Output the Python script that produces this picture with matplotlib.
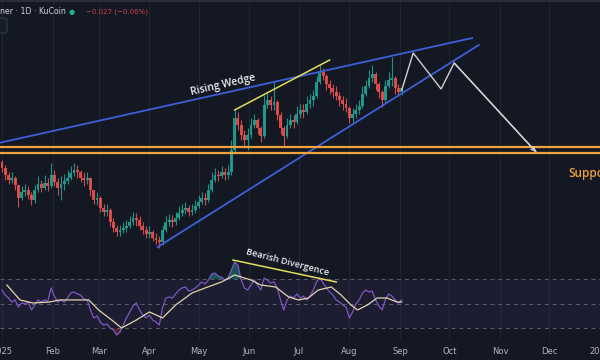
import numpy as np
import pandas as pd
import matplotlib
matplotlib.use("Agg")
import matplotlib.pyplot as plt
from matplotlib.patches import FancyBboxPatch, Rectangle

# velas de 2 dias, 1 ene - 3 sep 2025
candle_start = "2025-01-01"
first_open = 37.8
closes = [37.2, 36.5, 36.0, 36.2, 35.5, 34.2, 34.8, 35.0, 34.5, 34.0,
          35.0, 35.6, 35.2, 35.7, 35.4, 36.5, 35.8, 35.2, 35.6, 35.9,
          36.2, 36.7, 37.0, 36.8, 36.2, 36.0, 36.2, 35.0, 34.0, 34.2,
          33.2, 32.8, 33.0, 31.8, 31.2, 30.8, 31.0, 31.2, 31.4, 31.8,
          32.2, 32.0, 31.4, 31.0, 30.6, 30.8, 30.2, 30.0, 29.8, 31.0,
          31.8, 32.0, 31.8, 32.2, 32.7, 33.0, 33.2, 32.8, 33.0, 33.4,
          33.8, 34.2, 34.0, 35.0, 36.0, 36.5, 36.4, 36.8, 36.5, 36.8,
          39.0, 42.2, 41.5, 40.5, 40.0, 40.5, 41.5, 42.0, 41.2, 40.4,
          43.5, 44.0, 43.5, 43.8, 42.5, 41.2, 40.4, 41.5, 42.0, 41.8,
          42.6, 43.0, 42.8, 43.6, 44.0, 44.4, 45.8, 46.8, 46.4, 45.6,
          45.2, 44.8, 44.4, 44.0, 43.6, 43.2, 42.2, 42.6, 43.0, 43.4,
          44.6, 45.4, 46.2, 46.6, 45.6, 44.8, 44.0, 45.4, 46.0, 46.2,
          45.2, 44.8, 45.2]
highs = [38.0, 37.5, 36.8, 36.8, 36.4, 35.5, 35.4, 35.6, 35.4, 34.8,
         35.5, 36.4, 36.0, 36.5, 36.2, 37.7, 37.0, 36.2, 36.4, 36.6,
         37.0, 37.4, 37.7, 37.5, 37.0, 36.8, 36.8, 36.3, 35.0, 34.8,
         34.4, 33.6, 33.6, 33.2, 32.2, 31.5, 31.5, 31.8, 32.0, 32.4,
         32.8, 32.7, 32.4, 31.8, 31.4, 31.4, 31.0, 30.7, 30.4, 31.5,
         32.4, 32.6, 32.5, 32.8, 33.4, 33.6, 33.8, 33.5, 33.6, 34.0,
         34.5, 34.8, 34.7, 35.6, 36.8, 37.2, 37.0, 37.4, 37.2, 37.5,
         40.0, 43.0, 42.8, 42.0, 41.0, 41.2, 42.2, 42.6, 42.2, 41.4,
         44.5, 44.7, 44.4, 45.8, 44.0, 42.8, 41.4, 42.2, 42.6, 42.5,
         43.4, 43.6, 43.6, 44.4, 44.6, 45.0, 46.4, 47.5, 47.2, 46.6,
         46.0, 45.6, 45.4, 44.8, 44.4, 44.2, 43.4, 43.2, 43.6, 44.0,
         45.4, 46.0, 47.0, 47.5, 46.8, 45.8, 45.0, 46.0, 46.8, 48.3,
         46.4, 45.6, 45.5]
lows = [36.8, 36.0, 35.6, 35.7, 35.0, 33.3, 34.0, 34.4, 34.1, 33.5,
        33.7, 34.8, 34.8, 35.0, 34.9, 35.2, 35.4, 34.5, 34.0, 35.0,
        35.6, 36.0, 36.4, 36.2, 35.8, 35.4, 35.6, 34.4, 33.6, 33.5,
        32.8, 32.4, 32.4, 31.4, 30.8, 30.4, 30.4, 30.7, 30.8, 31.2,
        31.5, 31.4, 31.0, 30.6, 30.2, 30.2, 29.9, 29.6, 29.2, 29.5,
        30.8, 31.4, 31.3, 31.5, 32.0, 32.4, 32.6, 32.4, 32.5, 32.7,
        33.2, 33.6, 33.5, 33.8, 34.8, 35.8, 35.9, 36.2, 36.0, 36.1,
        36.5, 38.8, 41.0, 40.0, 39.2, 39.0, 40.2, 41.2, 40.6, 39.8,
        40.2, 43.2, 43.0, 43.0, 42.0, 40.6, 39.3, 40.2, 41.2, 41.2,
        41.6, 42.2, 42.2, 42.6, 43.2, 43.4, 44.2, 45.6, 46.0, 45.0,
        44.6, 44.2, 44.0, 43.4, 43.0, 42.8, 41.7, 41.8, 42.2, 42.6,
        43.2, 44.4, 45.2, 45.8, 45.0, 44.2, 43.3, 43.8, 45.2, 45.4,
        44.6, 44.4, 44.5]

rsi = [61.0, 56.9, 54.5, 51.2, 52.9, 47.1, 50.4, 49.6, 51.2, 44.7,
       48.8, 52.9, 51.2, 52.9, 52.0, 62.7, 56.1, 51.2, 52.9, 51.2,
       54.5, 58.6, 59.4, 57.8, 56.9, 53.7, 52.9, 44.7, 38.2, 39.8,
       34.9, 32.4, 33.3, 30.0, 28.4, 24.3, 26.7, 32.4, 38.2, 43.1,
       48.0, 50.4, 44.7, 40.6, 38.2, 40.6, 36.5, 34.9, 32.4, 46.3,
       54.5, 55.3, 54.5, 57.8, 61.0, 62.7, 63.5, 60.2, 61.0, 62.7,
       65.1, 67.6, 65.9, 69.2, 74.1, 74.9, 72.4, 71.6, 69.2, 70.8,
       77.3, 83.9, 81.4, 69.2, 62.7, 61.0, 65.1, 69.2, 65.1, 61.0,
       70.8, 69.2, 66.7, 67.6, 62.7, 52.9, 44.7, 52.9, 56.1, 54.5,
       57.8, 54.5, 56.1, 52.9, 56.1, 61.0, 67.6, 70.8, 66.7, 62.7,
       59.4, 56.9, 52.9, 51.2, 48.8, 47.1, 38.2, 43.1, 49.6, 52.9,
       58.6, 61.0, 59.4, 60.2, 52.9, 48.0, 44.7, 52.9, 57.8, 56.1,
       52.9, 50.4, 52.9]

ma_dates = ["2025-01-04", "2025-01-12", "2025-01-20", "2025-01-30", "2025-02-05",
            "2025-02-17", "2025-02-23", "2025-03-01", "2025-03-09", "2025-03-15",
            "2025-03-24", "2025-04-01", "2025-04-09", "2025-04-17", "2025-04-27",
            "2025-05-05", "2025-05-15", "2025-05-23", "2025-06-02", "2025-06-08",
            "2025-06-17", "2025-06-25", "2025-07-01", "2025-07-07", "2025-07-13",
            "2025-07-21", "2025-07-27", "2025-08-02", "2025-08-06", "2025-08-12",
            "2025-08-18", "2025-08-24", "2025-08-30", "2025-09-02"]
ma_vals = [65.1, 52.9, 50.4, 51.2, 52.9, 52.9, 52.9, 44.7, 36.5, 30.0,
           36.5, 43.1, 38.2, 48.8, 58.6, 62.7, 67.6, 73.3, 69.2, 65.1,
           63.5, 55.3, 52.9, 54.5, 61.0, 63.5, 56.9, 48.8, 44.7, 48.8,
           54.5, 54.5, 51.2, 51.2]

# dibujos
upper_dates = ["2024-12-30", "2025-10-15"]
upper_prices = [39.7, 50.2]
lower_dates = ["2025-04-06", "2025-10-19"]
lower_prices = [29.3, 49.5]
tops_dates = ["2025-05-23", "2025-07-20"]
tops_prices = [43.0, 48.0]
support_levels = [39.3, 38.7]
path_dates = ["2025-09-02", "2025-09-09", "2025-09-26", "2025-10-04", "2025-11-23"]
path_prices = [45.0, 48.7, 45.1, 47.7, 38.8]
div_dates = ["2025-05-22", "2025-07-24"]
div_rsi = [85.5, 67.6]

month_ticks = pd.date_range("2025-01-01", "2026-01-01", freq="MS")
month_labels = ["2025", "Feb", "Mar", "Apr", "May", "Jun", "Jul", "Aug",
                "Sep", "Oct", "Nov", "Dec", "2026"]

bg = "#141823"
verde = "#22a193"
rojo = "#e8504e"
azul = "#3d5fd9"
naranja = "#f0a23c"
amarillo = "#e2df5a"
gris = "#b2b5be"

fechas = pd.date_range(candle_start, periods=len(closes), freq="2D")
closes = np.array(closes)
opens = np.concatenate([[first_open], closes[:-1]])
highs = np.maximum(np.array(highs), np.maximum(opens, closes))
lows = np.minimum(np.array(lows), np.minimum(opens, closes))
rsi = np.array(rsi)

fig = plt.figure(figsize=(6, 3.6), dpi=100, facecolor=bg)
ax = fig.add_axes([0, 20 / 360, 1, 340 / 360], facecolor=bg)
ax_rsi = fig.add_axes([0, 20 / 360, 1, 90 / 360], sharex=ax, facecolor="none")

x0 = pd.Timestamp("2025-01-01") - pd.Timedelta(days=1.2)
x1 = pd.Timestamp("2025-01-01") + pd.Timedelta(days=362.4)
ax.set_xlim(x0, x1)
ax.set_ylim(20, 54)
ax_rsi.set_ylim(20.2, 93.7)

for a in (ax, ax_rsi):
    for s in a.spines.values():
        s.set_visible(False)
    a.set_yticks([])
ax.set_xticks(month_ticks)
ax.grid(axis="x", color="#1f2431", lw=0.8)
ax.tick_params(axis="x", length=0, labelbottom=False)

# velas
colores = np.where(closes >= opens, verde, rojo)
ax.vlines(fechas, lows, highs, colors=colores, lw=0.8, alpha=0.9, zorder=2)
altura = closes - opens
altura = np.where(np.abs(altura) < 0.08, 0.08, altura)
ax.bar(fechas, altura, bottom=opens, width=1.75, color=colores, lw=0,
       alpha=0.9, zorder=3)

# cuña
ax.plot(pd.to_datetime(upper_dates), upper_prices, color=azul, lw=1.3, zorder=4)
ax.plot(pd.to_datetime(lower_dates), lower_prices, color=azul, lw=1.3, zorder=4)
ax.plot(pd.to_datetime(tops_dates), tops_prices, color=amarillo, lw=1.1, zorder=4)
for nivel in support_levels:
    ax.axhline(nivel, color=naranja, lw=1.6, zorder=4)

pd_path = pd.to_datetime(path_dates)
ax.plot(pd_path, path_prices, color="#d0d0d0", lw=1.0, zorder=5)
ax.annotate("", xy=(pd_path[-1], path_prices[-1]), xytext=(pd_path[-2], path_prices[-2]),
            arrowprops=dict(arrowstyle="->", color="#d0d0d0", lw=1.0,
                            mutation_scale=7, shrinkA=0, shrinkB=0), zorder=5)

ax.text(pd.Timestamp("2025-05-16"), 45.5, "Rising Wedge", color="#eceef3",
        fontsize=7.5, family="Open Sans", fontweight="semibold",
        rotation=13, ha="center", va="center", rotation_mode="anchor", zorder=6)
ax.text(pd.Timestamp("2025-12-12 12:00"), 36.7, "Support", color=naranja,
        fontsize=8.5, family="Open Sans", fontweight="semibold",
        ha="left", va="center", zorder=6)

# RSI
ax_rsi.axhspan(30, 70, color="#7e57c2", alpha=0.09, lw=0, zorder=1)
for nivel in (70, 50, 30):
    ax_rsi.axhline(nivel, color="#787b86", lw=0.7, ls=(0, (4, 4)), alpha=0.7, zorder=2)
ax_rsi.fill_between(fechas, 70, rsi, where=rsi > 70, interpolate=True,
                    color=verde, alpha=0.45, lw=0, zorder=2)
ax_rsi.fill_between(fechas, 30, rsi, where=rsi < 30, interpolate=True,
                    color=rojo, alpha=0.25, lw=0, zorder=2)
ax_rsi.plot(fechas, rsi, color="#7e57c2", lw=0.9, zorder=3)
ax_rsi.plot(pd.to_datetime(ma_dates), ma_vals, color="#e3d6ad", lw=0.9, zorder=4)
ax_rsi.plot(pd.to_datetime(div_dates), div_rsi, color=amarillo, lw=1.1, zorder=5)
ax_rsi.text(pd.Timestamp("2025-06-24"), 83.6, "Bearish Divergence", color="#eceef3",
            fontsize=6.6, family="Open Sans", fontweight="semibold",
            rotation=-14.5, ha="center", va="center", rotation_mode="anchor", zorder=6)

ax_rsi.set_xticks(month_ticks)
ax_rsi.set_xticklabels(month_labels)
ax_rsi.tick_params(axis="x", length=0, pad=5, labelsize=6, labelcolor=gris)

# cabecera
fig.add_artist(Rectangle((0, 1 - 2 / 360), 1, 2 / 360, transform=fig.transFigure,
                         color="#2a2e39", lw=0))
fig.add_artist(FancyBboxPatch((-10 / 600, 1 - 33 / 360), 17 / 600, 15 / 360,
                              boxstyle="round,pad=0,rounding_size=0.006",
                              transform=fig.transFigure, facecolor="#181c27",
                              edgecolor="#2c3a58", lw=0.8))
fig.text(0 / 600, 1 - 12 / 360, "ner · 1D · KuCoin", color="#d1d4dc",
         fontsize=5.6, ha="left", va="center")
fig.text(72 / 600, 1 - 12 / 360, "●", color="#22ab94", fontsize=5,
         ha="center", va="center")
fig.text(86 / 600, 1 - 12 / 360, "−0.027 (−0.06%)", color="#c8434f",
         fontsize=5, ha="left", va="center")

fig.savefig("out.png", dpi=100, facecolor=bg)
